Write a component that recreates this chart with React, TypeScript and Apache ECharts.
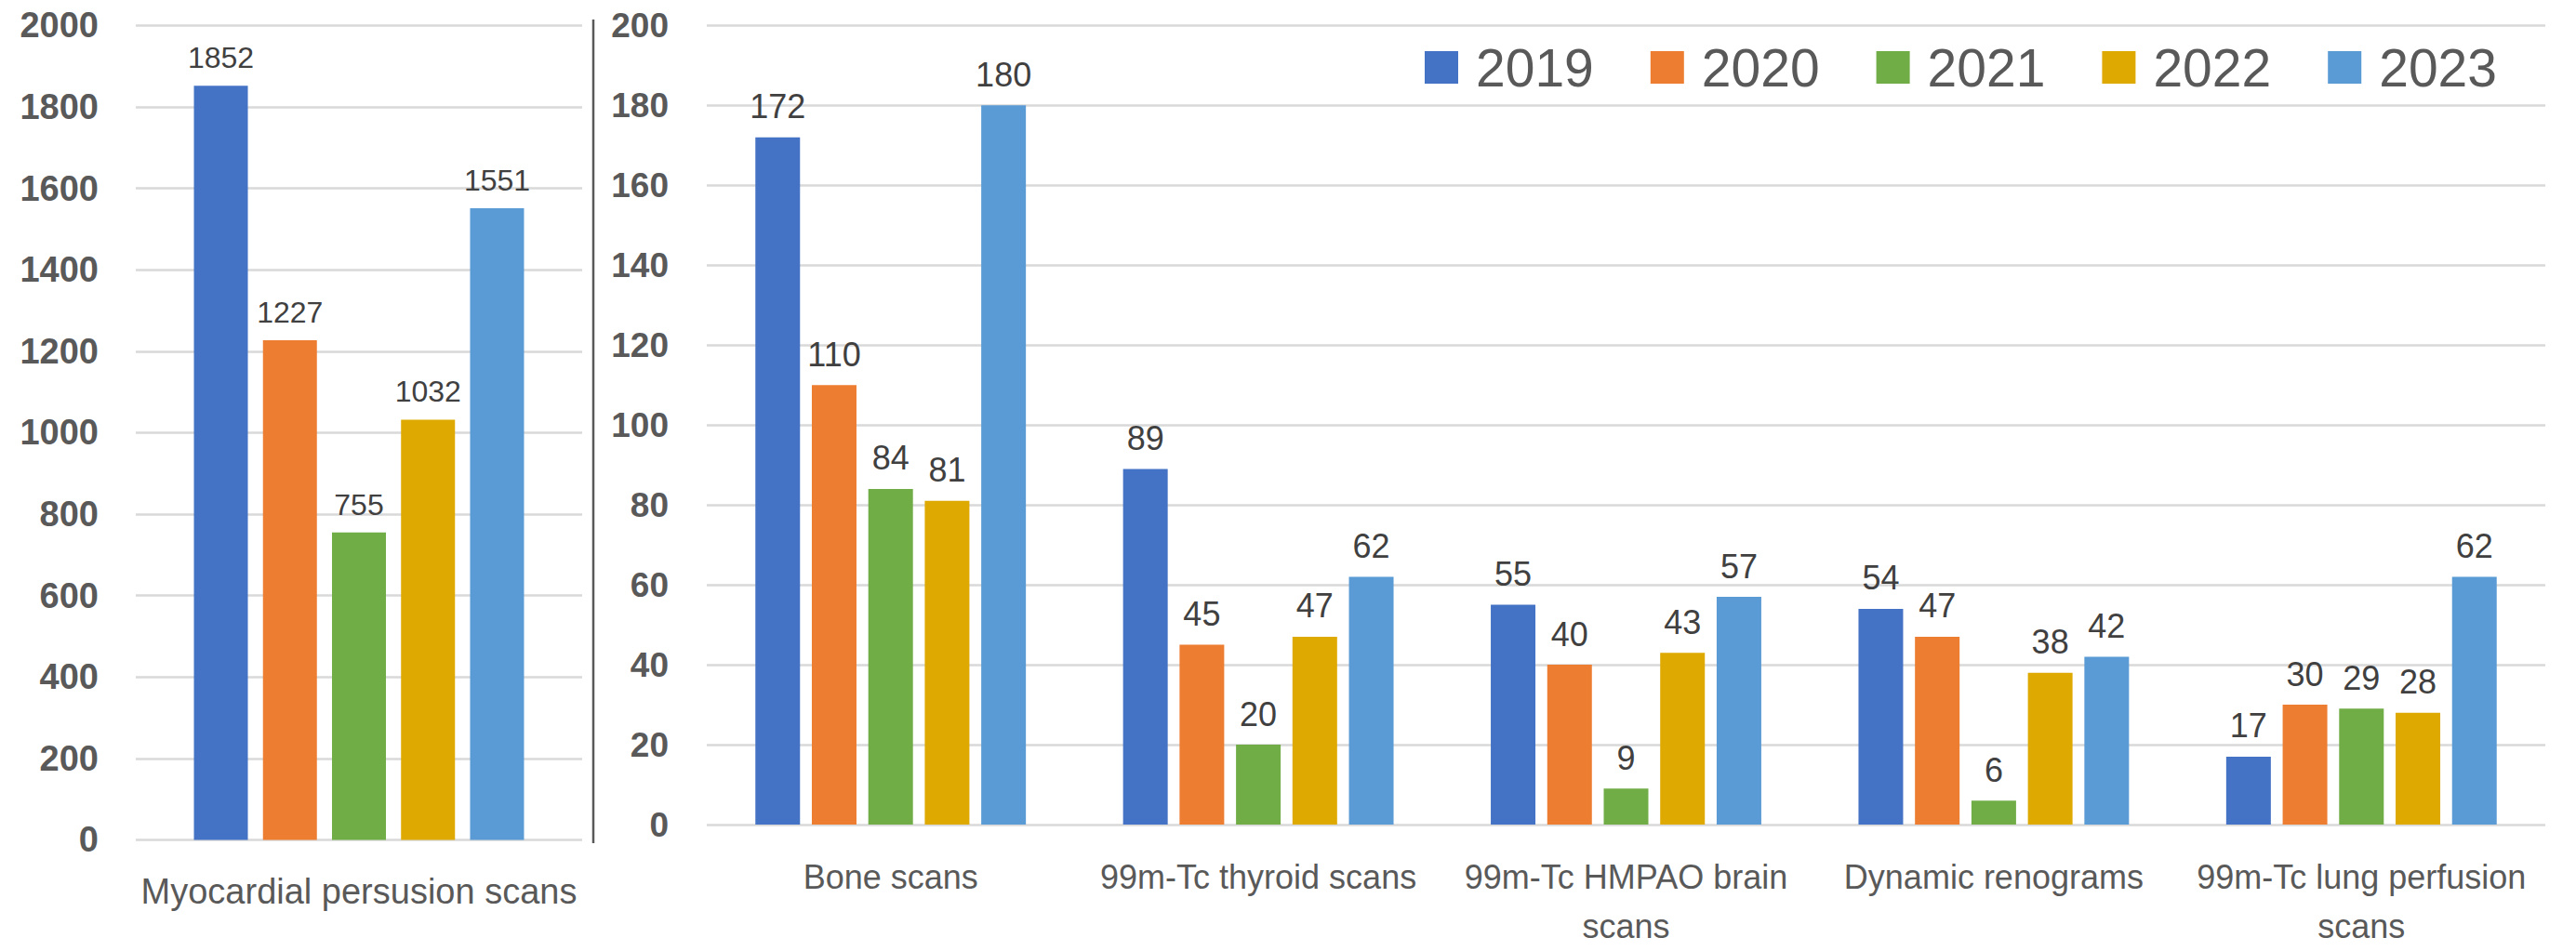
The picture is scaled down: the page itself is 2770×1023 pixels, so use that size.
import React, { useEffect, useRef } from "react";
import * as echarts from "echarts";

const years = ["2019", "2020", "2021", "2022", "2023"];
const colors = ["#4472C4", "#ED7D31", "#70AD47", "#DEA900", "#5B9BD5"];

const leftCategories = ["Myocardial persusion scans"];
const leftValues: number[][] = [[1852], [1227], [755], [1032], [1551]];

const rightCategories = [
  "Bone scans",
  "99m-Tc thyroid scans",
  "99m-Tc HMPAO brain\nscans",
  "Dynamic renograms",
  "99m-Tc lung perfusion\nscans",
];
// per year, values for each right category
const rightValues: number[][] = [
  [172, 89, 55, 54, 17],
  [110, 45, 40, 47, 30],
  [84, 20, 9, 6, 29],
  [81, 47, 43, 38, 28],
  [180, 62, 57, 42, 62],
];

const FONT = "Liberation Sans";

export default function App() {
  const ref = useRef<HTMLDivElement>(null);
  useEffect(() => {
    if (!ref.current) return;
    const chart = echarts.init(ref.current, undefined, { renderer: "svg" });
    const series: any[] = [];
    years.forEach((y, i) => {
      series.push({
        name: y,
        type: "bar",
        xAxisIndex: 0,
        yAxisIndex: 0,
        data: leftValues[i],
        barWidth: 58,
        barGap: "28%",
        itemStyle: { color: colors[i] },
        label: {
          show: true,
          position: "top",
          distance: 14,
          color: "#404040",
          fontSize: 32,
          fontFamily: FONT,
        },
      });
    });
    years.forEach((y, i) => {
      series.push({
        name: y,
        type: "bar",
        xAxisIndex: 1,
        yAxisIndex: 1,
        data: rightValues[i],
        barWidth: 48,
        barGap: "26.5%",
        itemStyle: { color: colors[i] },
        label: {
          show: true,
          position: "top",
          distance: 15,
          color: "#404040",
          fontSize: 36,
          fontFamily: FONT,
        },
      });
    });
    const splitLine = { show: true, lineStyle: { color: "#D9D9D9", width: 2.5 } };
    const plain = (v: number) => String(v);
    chart.setOption({
      animation: false,
      backgroundColor: "#ffffff",
      textStyle: { fontFamily: FONT },
      grid: [
        { left: 146, width: 480, top: 27.4, height: 876 },
        { left: 760, width: 1977, top: 27.4, height: 868 },
      ],
      legend: {
        data: years,
        left: 1532,
        top: 44,
        padding: 0,
        itemWidth: 36,
        itemHeight: 35,
        itemGap: 61,
        icon: "rect",
        textStyle: {
          color: "#595959",
          fontSize: 57,
          lineHeight: 57,
          fontFamily: FONT,
          padding: [0, 0, 0, 14],
        },
      },
      xAxis: [
        {
          type: "category",
          gridIndex: 0,
          data: leftCategories,
          axisLine: { show: false },
          axisTick: { show: false },
          axisLabel: {
            color: "#595959",
            fontSize: 38,
            lineHeight: 53,
            margin: 29,
            fontFamily: FONT,
          },
        },
        {
          type: "category",
          gridIndex: 1,
          data: rightCategories,
          axisLine: { show: false },
          axisTick: { show: false },
          axisLabel: {
            color: "#595959",
            fontSize: 36,
            lineHeight: 53,
            margin: 30,
            interval: 0,
            fontFamily: FONT,
          },
        },
      ],
      yAxis: [
        {
          type: "value",
          gridIndex: 0,
          min: 0,
          max: 2000,
          interval: 200,
          axisLine: { show: false },
          axisTick: { show: false },
          splitLine,
          axisLabel: {
            color: "#595959",
            fontSize: 38,
            fontWeight: "bold",
            margin: 40,
            fontFamily: FONT,
            formatter: plain,
          },
        },
        {
          type: "value",
          gridIndex: 1,
          min: 0,
          max: 200,
          interval: 20,
          axisLine: { show: false },
          axisTick: { show: false },
          splitLine,
          axisLabel: {
            color: "#595959",
            fontSize: 37,
            fontWeight: "bold",
            margin: 41,
            fontFamily: FONT,
            formatter: plain,
          },
        },
      ],
      graphic: [
        {
          type: "line",
          shape: { x1: 638, y1: 21, x2: 638, y2: 907 },
          style: { stroke: "#595959", lineWidth: 2.5 },
        },
      ],
      series,
    });
    return () => chart.dispose();
  }, []);
  return (
    <div
      ref={ref}
      style={{ position: "fixed", left: 0, top: 0, width: 2770, height: 1023, background: "#fff" }}
    />
  );
}
